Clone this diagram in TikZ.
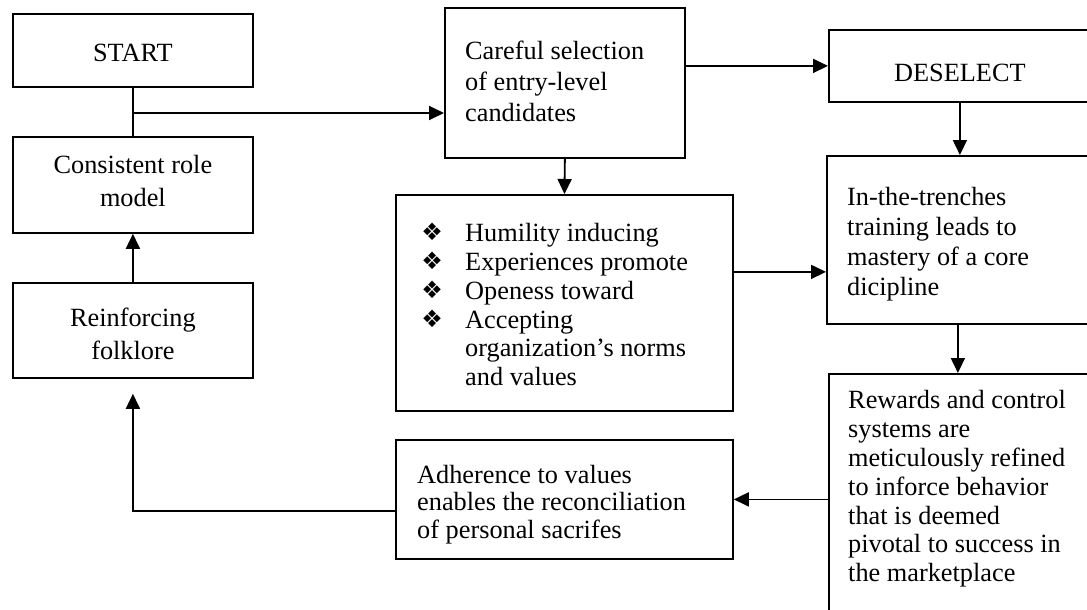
\documentclass[tikz,border=0pt]{standalone}
\usepackage{fontspec}
\setmainfont{Liberation Serif}
\newfontfamily\dvfont{DejaVu Sans}
\usetikzlibrary{arrows.meta,calc}
\newcommand{\diabullet}{\makebox[20pt]{\raisebox{1pt}{\dvfont\fontsize{24}{24}\selectfont ❖}}}
\begin{document}
\begin{tikzpicture}[x=1pt,y=-1pt,
  box/.style={draw, line width=1.8pt, anchor=north west, inner sep=0pt},
  txt/.style={inner sep=0pt, font=\fontsize{26.3}{#1}\selectfont},
  ctxt/.style={txt=#1, align=center, anchor=center},
  ltxt/.style={txt=#1, align=left, anchor=west},
  line/.style={line width=1.8pt},
  arr/.style={line, -{Triangle[length=15pt,width=14pt]}}]
\useasboundingbox (0,0) rectangle (1087,610);
\clip (0,0) rectangle (1087,610);

% boxes
\node[box, minimum width=240pt, minimum height=73pt] (start) at (12,13) {};
\node[box, minimum width=240pt, minimum height=96pt] (consist) at (12,136) {};
\node[box, minimum width=240pt, minimum height=95pt] (reinf) at (12,282) {};
\node[box, minimum width=240pt, minimum height=150pt] (careful) at (444,7) {};
\node[box, minimum width=337pt, minimum height=216pt] (bullets) at (395,194) {};
\node[box, minimum width=337pt, minimum height=119pt] (adher) at (395,439) {};
\node[box, minimum width=262pt, minimum height=72pt] (deselect) at (828,29) {};
\node[box, minimum width=262pt, minimum height=168pt] (trenches) at (826,155) {};
\node[box, minimum width=280pt, minimum height=260pt] (rewards) at (828,373) {};

% texts
\node[ctxt=28.8] (start-t) at ([yshift=-3pt]start.center) {START};
\node[ctxt=32.5] (consist-t) at ([yshift=4pt]consist.center) {Consistent role\\model};
\node[ctxt=33] (reinf-t) at ([yshift=-3pt]reinf.center) {Reinforcing\\folklore};
\node[ltxt=31] (careful-t) at ([xshift=21pt,yshift=2pt]careful.west)
  {Careful selection\\of entry-level\\candidates};
\node[ltxt=28.8] (bullets-t) at ([xshift=27pt,yshift=-5pt]bullets.west)
  {\begin{tabular}{@{}c@{\hspace{23pt}}l@{}}
  \diabullet & Humility inducing\\
  \diabullet & Experiences promote\\
  \diabullet & Openess toward\\
  \diabullet & Accepting\\
             & organization’s norms\\
             & and values
  \end{tabular}};
\node[ltxt=27.5] (adher-t) at ([xshift=22pt,yshift=-5pt]adher.west)
  {Adherence to values\\enables the reconciliation\\of personal sacrifes};
\node[ctxt=28.8] (deselect-t) at ([yshift=-7pt]deselect.center) {DESELECT};
\node[ltxt=30] (trenches-t) at ([xshift=21pt,yshift=-4pt]trenches.west)
  {In-the-trenches\\training leads to\\mastery of a core\\dicipline};
\node[txt=28.8, align=left, anchor=north west] (rewards-t) at ([xshift=20pt,yshift=-17.5pt]rewards.north west)
  {Rewards and control\\systems are\\meticulously refined\\to inforce behavior\\that is deemed\\pivotal to success in\\the marketplace};

% connectors
\coordinate (j) at (start.south |- 0,113);
\draw[line] (start.south) -- (consist.north);
\draw[arr] (j) -- (j -| careful.west);
\draw[arr] (careful.east |- deselect.west) -- (deselect.west);
\draw[arr] (careful.south) -- (bullets.north);
\draw[arr] (deselect.south) -- (deselect.south |- trenches.north);
\coordinate (b1) at ([yshift=31pt]bullets.east);
\draw[arr] (b1) -- (b1 -| trenches.west);
\draw[arr] (trenches.south) -- (trenches.south |- rewards.north);
\draw[arr] (adher.east -| rewards.west) -- (adher.east);
\coordinate (a1) at ([yshift=-11.5pt]adher.west);
\coordinate (r1) at ([yshift=-15pt]reinf.south);
\draw[arr] (a1) -- (a1 -| r1) -- (r1);
\draw[arr] (reinf.north) -- (consist.south);
\end{tikzpicture}
\end{document}
